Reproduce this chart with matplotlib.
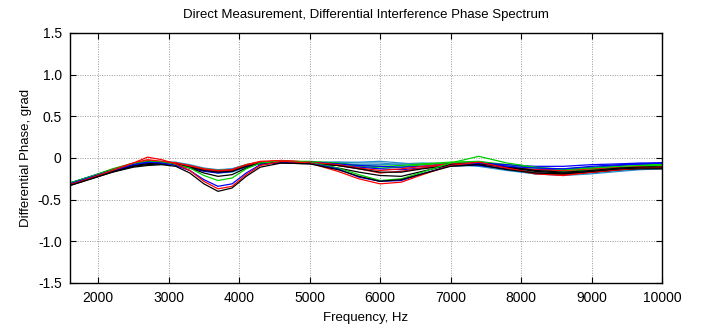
import numpy as np
import matplotlib as mpl
mpl.use('Agg')
import matplotlib.pyplot as plt
from matplotlib.ticker import FixedLocator, FuncFormatter

plt.rcParams['font.family'] = ['Liberation Sans', 'DejaVu Sans']

# frequency grid, Hz
freq = [1600, 1900, 2200, 2500, 2700, 2900, 3100, 3300, 3500, 3700, 3900, 4100, 4300, 4600,
        5000, 5400, 5700, 6000, 6300, 6600, 7000, 7400, 7800, 8200, 8600, 9000, 9400, 9700, 10000]

# differential phase, grad (one list per measurement)
black_1 = [-0.33, -0.25, -0.17, -0.11, -0.09, -0.08, -0.10, -0.18, -0.31, -0.40, -0.36, -0.22, -0.11, -0.06,
           -0.07, -0.14, -0.22, -0.28, -0.26, -0.19, -0.10, -0.08, -0.14, -0.18, -0.19, -0.16, -0.13, -0.12, -0.12]
red_1 = [-0.32, -0.24, -0.15, -0.06, 0.01, -0.02, -0.07, -0.15, -0.28, -0.37, -0.34, -0.20, -0.09, -0.04,
         -0.06, -0.16, -0.25, -0.31, -0.29, -0.20, -0.09, -0.05, -0.12, -0.19, -0.21, -0.17, -0.14, -0.12, -0.11]
blue_1 = [-0.31, -0.23, -0.15, -0.08, -0.05, -0.06, -0.09, -0.15, -0.26, -0.34, -0.31, -0.18, -0.08, -0.05,
          -0.06, -0.13, -0.23, -0.28, -0.27, -0.19, -0.09, -0.06, -0.10, -0.12, -0.13, -0.10, -0.08, -0.07, -0.06]
green_1 = [-0.30, -0.22, -0.14, -0.07, -0.04, -0.05, -0.08, -0.12, -0.21, -0.27, -0.24, -0.13, -0.06, -0.04,
           -0.05, -0.12, -0.20, -0.27, -0.25, -0.17, -0.06, 0.02, -0.06, -0.11, -0.14, -0.12, -0.10, -0.09, -0.09]
black_2 = [-0.32, -0.24, -0.16, -0.09, -0.07, -0.06, -0.07, -0.12, -0.18, -0.22, -0.20, -0.12, -0.06, -0.05,
           -0.06, -0.12, -0.17, -0.21, -0.22, -0.16, -0.08, -0.06, -0.10, -0.15, -0.17, -0.15, -0.12, -0.11, -0.10]
cyan_1 = [-0.30, -0.22, -0.14, -0.07, -0.04, -0.04, -0.05, -0.08, -0.12, -0.14, -0.13, -0.08, -0.05, -0.04,
          -0.05, -0.05, -0.05, -0.04, -0.06, -0.08, -0.09, -0.08, -0.13, -0.17, -0.18, -0.16, -0.13, -0.12, -0.11]
red_2 = [-0.31, -0.23, -0.14, -0.07, -0.03, -0.05, -0.06, -0.10, -0.14, -0.16, -0.15, -0.09, -0.05, -0.03,
         -0.05, -0.08, -0.12, -0.15, -0.13, -0.10, -0.07, -0.06, -0.11, -0.14, -0.15, -0.13, -0.11, -0.10, -0.09]
blue_2 = [-0.32, -0.24, -0.16, -0.09, -0.06, -0.07, -0.08, -0.12, -0.16, -0.18, -0.16, -0.10, -0.06, -0.05,
          -0.06, -0.09, -0.11, -0.13, -0.14, -0.12, -0.08, -0.09, -0.13, -0.14, -0.14, -0.12, -0.09, -0.07, -0.06]
green_2 = [-0.30, -0.22, -0.13, -0.06, -0.04, -0.05, -0.07, -0.10, -0.13, -0.15, -0.14, -0.08, -0.05, -0.04,
           -0.04, -0.06, -0.09, -0.10, -0.09, -0.07, -0.05, -0.04, -0.08, -0.12, -0.13, -0.11, -0.09, -0.08, -0.08]
black_3 = [-0.33, -0.25, -0.17, -0.10, -0.08, -0.07, -0.08, -0.11, -0.15, -0.17, -0.16, -0.10, -0.07, -0.06,
           -0.07, -0.09, -0.13, -0.17, -0.17, -0.13, -0.09, -0.07, -0.11, -0.16, -0.18, -0.17, -0.14, -0.13, -0.13]
cyan_2 = [-0.31, -0.23, -0.15, -0.08, -0.05, -0.05, -0.06, -0.09, -0.13, -0.15, -0.13, -0.08, -0.05, -0.04,
          -0.05, -0.06, -0.08, -0.08, -0.07, -0.06, -0.07, -0.10, -0.15, -0.19, -0.20, -0.18, -0.15, -0.13, -0.12]
red_3 = [-0.31, -0.23, -0.14, -0.06, -0.02, -0.04, -0.06, -0.09, -0.13, -0.15, -0.14, -0.08, -0.04, -0.03,
         -0.05, -0.09, -0.13, -0.18, -0.16, -0.12, -0.08, -0.06, -0.12, -0.18, -0.20, -0.17, -0.14, -0.12, -0.11]
green_3 = [-0.31, -0.23, -0.15, -0.08, -0.06, -0.06, -0.07, -0.10, -0.14, -0.16, -0.15, -0.09, -0.05, -0.04,
           -0.05, -0.07, -0.10, -0.12, -0.11, -0.08, -0.06, -0.05, -0.10, -0.14, -0.16, -0.14, -0.12, -0.11, -0.10]
blue_3 = [-0.30, -0.22, -0.14, -0.07, -0.05, -0.06, -0.07, -0.10, -0.14, -0.16, -0.14, -0.09, -0.05, -0.04,
          -0.05, -0.07, -0.09, -0.10, -0.11, -0.10, -0.07, -0.06, -0.08, -0.10, -0.10, -0.08, -0.07, -0.06, -0.06]
cyan_3 = [-0.32, -0.24, -0.16, -0.09, -0.06, -0.06, -0.07, -0.10, -0.15, -0.18, -0.17, -0.11, -0.06, -0.05,
          -0.06, -0.05, -0.06, -0.06, -0.08, -0.10, -0.10, -0.09, -0.14, -0.19, -0.21, -0.19, -0.16, -0.14, -0.13]

RED, GREEN, BLUE, BLACK, CYAN = '#ff0000', '#00d000', '#0000ff', '#000000', '#2a8fc8'

series = [
    (cyan_1, CYAN), (cyan_2, CYAN), (cyan_3, CYAN),
    (green_2, GREEN), (green_3, GREEN), (blue_2, BLUE), (blue_3, BLUE),
    (red_2, RED), (red_3, RED), (black_2, BLACK), (black_3, BLACK),
    (green_1, GREEN), (blue_1, BLUE), (red_1, RED), (black_1, BLACK),
]

fig = plt.figure(figsize=(7.01, 3.32), dpi=100)
ax = fig.add_axes([70 / 701, 49 / 332, 592 / 701, 250 / 332])

for vals, col in series:
    ax.plot(freq, vals, color=col, lw=0.9)

ax.set_xlim(1600, 10000)
ax.set_ylim(-1.5, 1.5)
ax.xaxis.set_major_locator(FixedLocator(np.arange(2000, 10001, 1000)))
ax.yaxis.set_major_locator(FixedLocator([-1.5, -1.0, -0.5, 0, 0.5, 1.0, 1.5]))
ax.yaxis.set_major_formatter(FuncFormatter(lambda v, p: '0' if abs(v) < 1e-9 else '%.1f' % v))
ax.grid(True, color='#999999', linestyle=(0, (1, 1.5)), linewidth=0.7)
ax.tick_params(direction='in', length=4, width=0.8, labelsize=10, top=True, right=True,
               labeltop=False, labelright=False, pad=6)
for sp in ax.spines.values():
    sp.set_linewidth(1.0)

ax.set_xlabel('Frequency, Hz', fontsize=9.5, labelpad=5)
ax.set_ylabel('Differential Phase, grad', fontsize=9.5, labelpad=4)
ax.set_title('Direct Measurement, Differential Interference Phase Spectrum', fontsize=9.5, pad=11)

fig.savefig('out.png', dpi=100)
